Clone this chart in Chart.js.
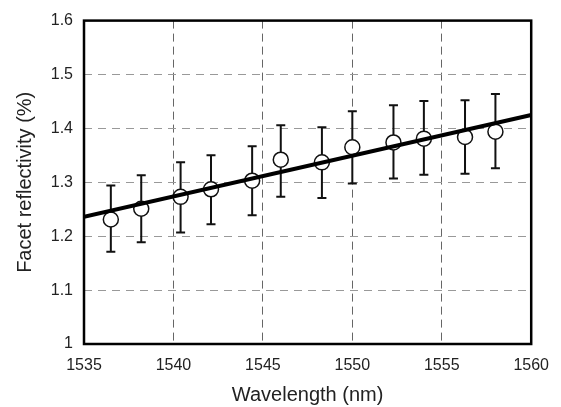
<!DOCTYPE html>
<html>
<head>
<meta charset="utf-8">
<script src="https://cdn.jsdelivr.net/npm/chart.js@4/dist/chart.umd.min.js"></script>
<style>
  html, body { margin: 0; padding: 0; background: #fff; }
  #wrap { width: 561px; height: 407px; }
</style>
</head>
<body>
<div id="wrap"><canvas id="chart" width="561" height="407"></canvas></div>
<script>
// measured points
const wavelength = [1536.5, 1538.2, 1540.4, 1542.1, 1544.4, 1546.0, 1548.3, 1550.0, 1552.3, 1554.0, 1556.3, 1558.0];
const reflectivity = [1.231, 1.251, 1.273, 1.287, 1.303, 1.342, 1.337, 1.365, 1.374, 1.381, 1.384, 1.394];
const errUpper = [1.294, 1.313, 1.337, 1.350, 1.367, 1.406, 1.402, 1.432, 1.443, 1.451, 1.452, 1.464];
const errLower = [1.171, 1.189, 1.207, 1.222, 1.239, 1.273, 1.271, 1.298, 1.307, 1.314, 1.316, 1.326];

// linear fit, end points
const fitX = [1535, 1560];
const fitY = [1.236, 1.425];

const xTicks = [1535, 1540, 1545, 1550, 1555, 1560];
const yTicks = [1, 1.1, 1.2, 1.3, 1.4, 1.5, 1.6];

const FONT = "'Liberation Sans', Arial, sans-serif";

const errorBars = {
  id: 'errorBars',
  beforeDatasetsDraw(chart) {
    const { ctx, scales: { x, y } } = chart;
    ctx.save();
    ctx.strokeStyle = '#111';
    ctx.lineWidth = 2;
    wavelength.forEach((w, i) => {
      const px = x.getPixelForValue(w);
      const top = y.getPixelForValue(errUpper[i]);
      const bot = y.getPixelForValue(errLower[i]);
      ctx.beginPath();
      ctx.moveTo(px, top);
      ctx.lineTo(px, bot);
      ctx.moveTo(px - 4.5, top);
      ctx.lineTo(px + 4.5, top);
      ctx.moveTo(px - 4.5, bot);
      ctx.lineTo(px + 4.5, bot);
      ctx.stroke();
    });
    ctx.restore();
  }
};

const frame = {
  id: 'frame',
  afterDatasetsDraw(chart) {
    const { ctx, chartArea: a } = chart;
    ctx.save();
    ctx.strokeStyle = '#000';
    ctx.lineWidth = 2.5;
    ctx.strokeRect(a.left, a.top, a.right - a.left, a.bottom - a.top);
    ctx.restore();
  }
};

new Chart(document.getElementById('chart'), {
  type: 'scatter',
  data: {
    datasets: [
      {
        label: 'fit',
        data: fitX.map((v, i) => ({ x: v, y: fitY[i] })),
        showLine: true,
        borderColor: '#000',
        borderWidth: 4,
        pointRadius: 0,
        order: 0
      },
      {
        label: 'measured',
        data: wavelength.map((v, i) => ({ x: v, y: reflectivity[i] })),
        pointRadius: 7.5,
        pointBackgroundColor: '#fff',
        pointBorderColor: '#111',
        pointBorderWidth: 1.5,
        order: 1
      }
    ]
  },
  options: {
    responsive: false,
    animation: false,
    layout: { padding: { left: 0, top: 14, right: 29, bottom: 0 } },
    plugins: {
      legend: { display: false },
      tooltip: { enabled: false }
    },
    scales: {
      x: {
        type: 'linear',
        min: 1535,
        max: 1560,
        afterBuildTicks: (s) => { s.ticks = xTicks.map((v) => ({ value: v })); },
        afterFit: (s) => { s.height = 63; },
        ticks: {
          color: '#222',
          padding: 12,
          font: { family: FONT, size: 16 },
          callback: (v) => String(v)
        },
        grid: { color: '#666', lineWidth: 1, drawTicks: false },
        border: { display: false, dash: [8, 5] },
        title: {
          display: true,
          text: 'Wavelength (nm)',
          color: '#222',
          font: { family: FONT, size: 20 },
          padding: { top: 0, bottom: 0 }
        }
      },
      y: {
        type: 'linear',
        min: 1,
        max: 1.6,
        afterBuildTicks: (s) => { s.ticks = yTicks.map((v) => ({ value: v })); },
        afterFit: (s) => { s.width = 84; },
        ticks: {
          color: '#222',
          padding: 11,
          font: { family: FONT, size: 16 },
          callback: (v) => (Math.abs(v - 1) < 1e-9 ? '1' : Number(v).toFixed(1))
        },
        grid: { color: '#999', lineWidth: 1, drawTicks: false },
        border: { display: false, dash: [8, 6] },
        title: {
          display: true,
          text: 'Facet reflectivity (%)',
          color: '#222',
          font: { family: FONT, size: 20 },
          padding: { top: 13, bottom: 0 }
        }
      }
    }
  },
  plugins: [errorBars, frame]
});
</script>
</body>
</html>
